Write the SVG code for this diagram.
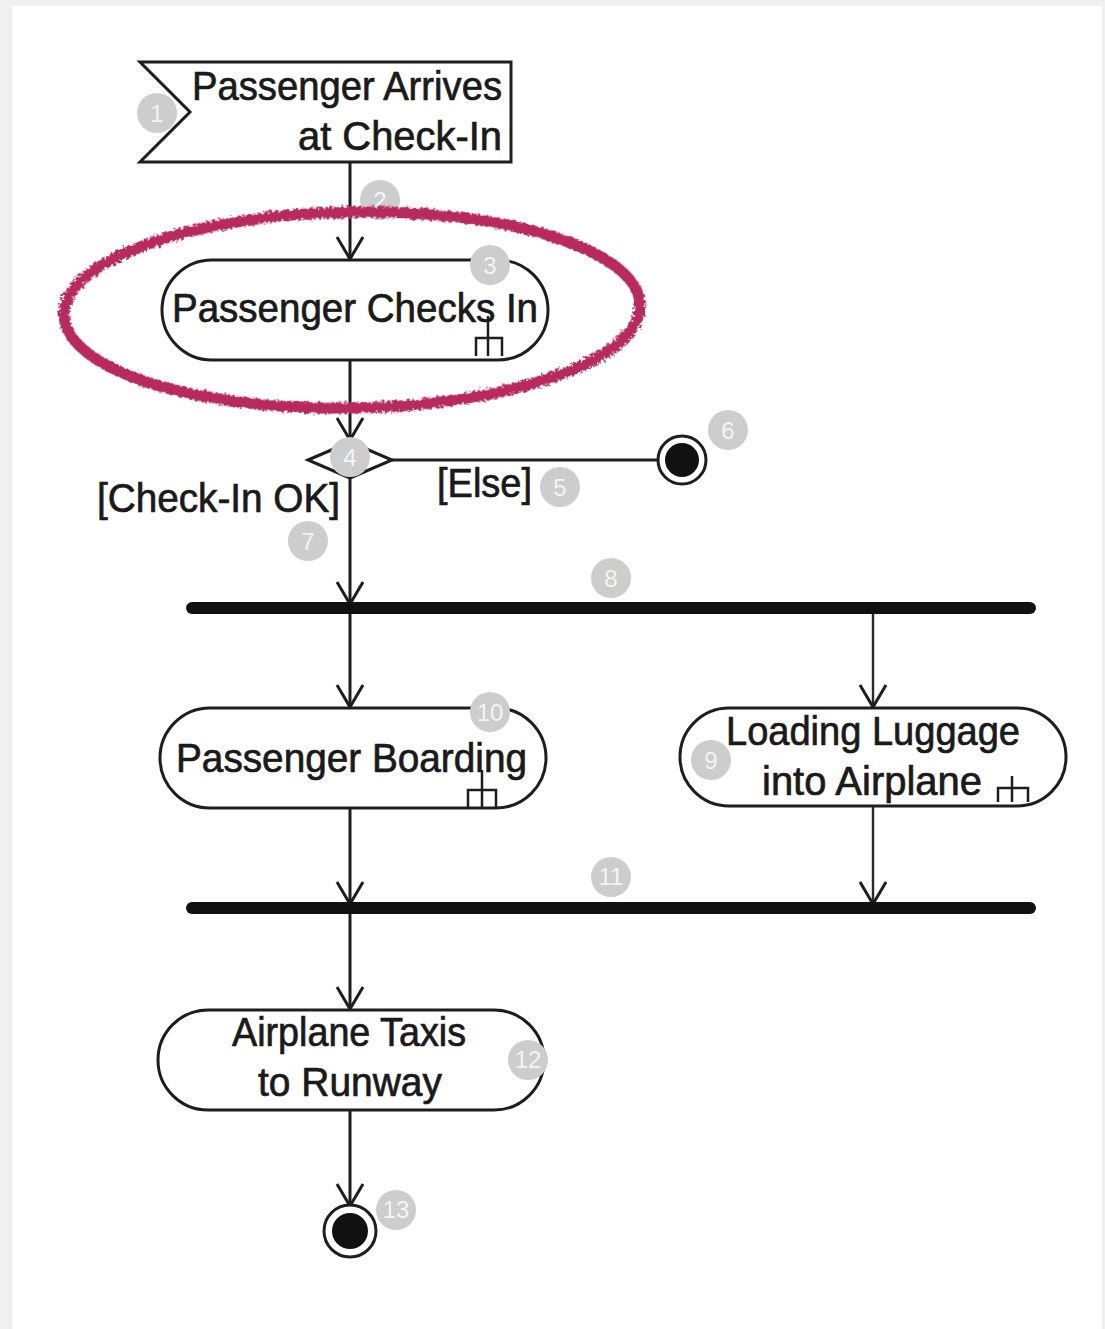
<svg xmlns="http://www.w3.org/2000/svg" width="1105" height="1329" viewBox="0 0 1105 1329">
<defs>
<style>
.ln{stroke:#1e1e1e;stroke-width:3;fill:none}
.thin{stroke:#2a2a2a;stroke-width:2.4;fill:none}
.node{fill:#fff;stroke:#1e1e1e;stroke-width:3}
.bar{stroke:#111;stroke-width:12;stroke-linecap:round}
.t{font-family:"Liberation Sans",Arial,sans-serif;font-size:40px;fill:#1a1a1a;stroke:#1a1a1a;stroke-width:0.7}
.num circle{fill:#cdcdcd}
.num text{font-family:"Liberation Sans",Arial,sans-serif;font-size:24px;fill:#f4f4f4;text-anchor:middle}
.rake{stroke:#1e1e1e;stroke-width:2.5;fill:none}
</style>
<marker id="arr" markerUnits="userSpaceOnUse" markerWidth="30" markerHeight="30" viewBox="0 0 30 30" refX="24" refY="14" orient="auto">
<path d="M2,1 L24,14 L2,27" fill="none" stroke="#1e1e1e" stroke-width="3"/>
</marker>
<filter id="rough" x="-10%" y="-20%" width="120%" height="140%">
<feTurbulence type="fractalNoise" baseFrequency="0.35" numOctaves="2" seed="3"/>
<feDisplacementMap in="SourceGraphic" scale="7"/>
</filter>
</defs>
<rect x="0" y="0" width="1105" height="1329" fill="#f0f0f0"/>
<rect x="12" y="6" width="1090" height="1323" fill="#fff"/>

<g id="connectors">
<line class="ln" x1="350" y1="162" x2="350" y2="259" marker-end="url(#arr)"/>
<line class="ln" x1="350" y1="360" x2="350" y2="440" marker-end="url(#arr)"/>
<line class="ln" x1="392" y1="460" x2="658" y2="460"/>
<line class="ln" x1="350" y1="478" x2="350" y2="604" marker-end="url(#arr)"/>
<line class="ln" x1="350" y1="608" x2="350" y2="707" marker-end="url(#arr)"/>
<line class="thin" x1="873" y1="608" x2="873" y2="707" marker-end="url(#arr)"/>
<line class="ln" x1="350" y1="808" x2="350" y2="904" marker-end="url(#arr)"/>
<line class="thin" x1="873" y1="806" x2="873" y2="904" marker-end="url(#arr)"/>
<line class="ln" x1="350" y1="908" x2="350" y2="1009" marker-end="url(#arr)"/>
<line class="ln" x1="350" y1="1110" x2="350" y2="1206" marker-end="url(#arr)"/>
<text class="t" x="97" y="512" textLength="243" lengthAdjust="spacingAndGlyphs">[Check-In OK]</text>
<text class="t" x="437" y="497" textLength="95" lengthAdjust="spacingAndGlyphs">[Else]</text>
</g>

<g id="n1-event">
<polygon class="node" points="140,62 511,62 511,162 140,162 190,112"/>
<text class="t" x="192" y="100" textLength="310" lengthAdjust="spacingAndGlyphs">Passenger Arrives</text>
<text class="t" x="298" y="150" textLength="204" lengthAdjust="spacingAndGlyphs">at Check-In</text>
</g>

<g id="n3-checksin">
<rect class="node" x="162" y="260" width="386" height="100" rx="50"/>
<text class="t" x="172" y="322" textLength="366" lengthAdjust="spacingAndGlyphs">Passenger Checks In</text>
<path class="rake" d="M488,316 V356 M476,356 V338 H502 V356"/>
</g>

<g id="n4-decision">
<polygon class="node" points="308,460 350,442 392,460 350,478"/>
</g>

<g id="n6-final">
<circle cx="682" cy="460" r="24" fill="#fff" stroke="#1e1e1e" stroke-width="3"/>
<circle cx="682" cy="460" r="17" fill="#111"/>
</g>

<g id="n8-fork">
<line class="bar" x1="192" y1="608" x2="1030" y2="608"/>
</g>

<g id="n10-boarding">
<rect class="node" x="160" y="708" width="386" height="100" rx="50"/>
<text class="t" x="176" y="772" textLength="351" lengthAdjust="spacingAndGlyphs">Passenger Boarding</text>
<path class="rake" d="M482,770 V808 M468,808 V790 H496 V808"/>
</g>

<g id="n9-loading">
<rect class="node" x="680" y="708" width="386" height="98" rx="49"/>
<text class="t" x="726" y="745" textLength="294" lengthAdjust="spacingAndGlyphs">Loading Luggage</text>
<text class="t" x="762" y="795" textLength="220" lengthAdjust="spacingAndGlyphs">into Airplane</text>
<path class="rake" d="M1012,776 V802 M998,802 V788 H1028 V802"/>
</g>

<g id="n11-join">
<line class="bar" x1="192" y1="908" x2="1030" y2="908"/>
</g>

<g id="n12-taxis">
<rect class="node" x="158" y="1010" width="386" height="100" rx="50"/>
<text class="t" x="232" y="1046" textLength="234" lengthAdjust="spacingAndGlyphs">Airplane Taxis</text>
<text class="t" x="258" y="1096" textLength="184" lengthAdjust="spacingAndGlyphs">to Runway</text>
</g>

<g id="n13-final">
<circle cx="350" cy="1231" r="26" fill="#fff" stroke="#1e1e1e" stroke-width="3"/>
<circle cx="350" cy="1231" r="18" fill="#111"/>
</g>

<g id="numbers" class="num">
<g><circle cx="157" cy="113" r="20"/><text x="157" y="122">1</text></g>
<g><circle cx="380" cy="200" r="20"/><text x="380" y="209">2</text></g>
<g><circle cx="490" cy="265" r="20"/><text x="490" y="274">3</text></g>
<g><circle cx="350" cy="457" r="20"/><text x="350" y="466">4</text></g>
<g><circle cx="560" cy="487" r="20"/><text x="560" y="496">5</text></g>
<g><circle cx="728" cy="430" r="20"/><text x="728" y="439">6</text></g>
<g><circle cx="308" cy="541" r="20"/><text x="308" y="550">7</text></g>
<g><circle cx="611" cy="578" r="20"/><text x="611" y="587">8</text></g>
<g><circle cx="711" cy="760" r="20"/><text x="711" y="769">9</text></g>
<g><circle cx="490" cy="712" r="20"/><text x="490" y="721" font-size="20">10</text></g>
<g><circle cx="611" cy="877" r="20"/><text x="611" y="885" font-size="20">11</text></g>
<g><circle cx="528" cy="1060" r="20"/><text x="528" y="1068" font-size="20">12</text></g>
<g><circle cx="396" cy="1210" r="20"/><text x="396" y="1218" font-size="20">13</text></g>
</g>

<g id="highlight">
<ellipse cx="352" cy="310" rx="288" ry="98" fill="none" stroke="#b82a5c" stroke-width="11" filter="url(#rough)" transform="rotate(-1 352 310)"/>
</g>
</svg>
